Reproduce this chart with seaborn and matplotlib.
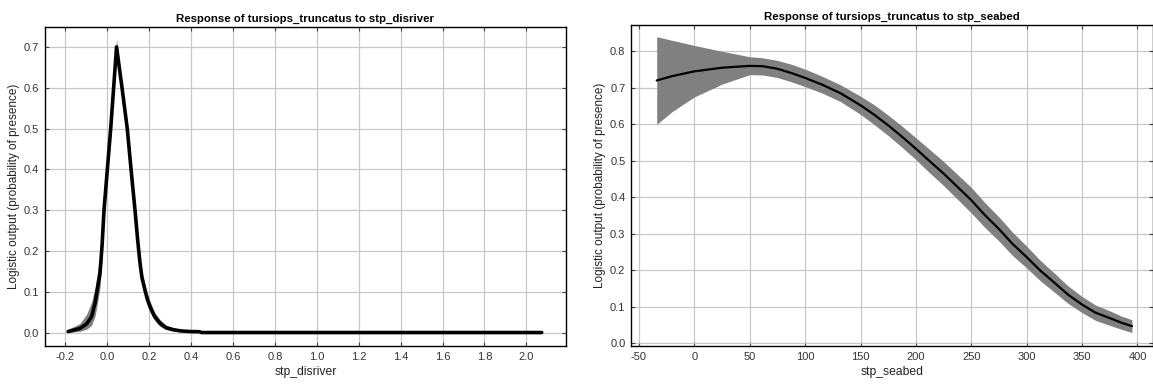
import numpy as np
import pandas as pd
import matplotlib
matplotlib.use("Agg")
import matplotlib.pyplot as plt
import seaborn as sns

# ---- Data: left panel (stp_disriver) ----
dis_x = [-0.187, -0.131, -0.099, -0.075, -0.059, -0.048, -0.035, -0.025, -0.016, 0.0, 0.016,
         0.03, 0.044, 0.07, 0.095, 0.115, 0.132, 0.145, 0.156, 0.165, 0.179, 0.19, 0.203,
         0.225, 0.251, 0.28, 0.315, 0.35, 0.394, 0.44, 0.45, 2.073]
dis_y = [0.0025, 0.010, 0.021, 0.039, 0.072, 0.105, 0.146, 0.215, 0.30, 0.40, 0.50,
         0.60, 0.70, 0.60, 0.50, 0.39, 0.30, 0.225, 0.17, 0.135, 0.105, 0.083, 0.064,
         0.04, 0.023, 0.012, 0.007, 0.004, 0.0025, 0.002, 0.0, 0.0]
dis_lo = [0.0, 0.003, 0.008, 0.018, 0.04, 0.07, 0.11, 0.18, 0.27, 0.375, 0.48,
          0.585, 0.69, 0.59, 0.49, 0.375, 0.285, 0.21, 0.155, 0.12, 0.09, 0.07, 0.05,
          0.03, 0.015, 0.007, 0.003, 0.002, 0.001, 0.001, 0.0, 0.0]
dis_hi = [0.008, 0.022, 0.045, 0.075, 0.11, 0.145, 0.19, 0.25, 0.33, 0.425, 0.52,
          0.615, 0.72, 0.61, 0.51, 0.405, 0.315, 0.24, 0.185, 0.15, 0.12, 0.097, 0.078,
          0.05, 0.032, 0.018, 0.011, 0.006, 0.004, 0.003, 0.0, 0.0]

# ---- Data: right panel (stp_seabed) ----
sea_x = [-34, -20, 0, 25, 50, 62, 75, 88, 100, 115, 132, 150, 162, 175, 187, 200, 212, 225,
         237, 250, 262, 275, 287, 300, 312, 325, 337, 350, 362, 375, 385, 395]
sea_y = [0.72, 0.732, 0.745, 0.755, 0.76, 0.759, 0.752, 0.74, 0.727, 0.709, 0.685, 0.652,
         0.627, 0.597, 0.567, 0.533, 0.50, 0.465, 0.43, 0.392, 0.352, 0.313, 0.273, 0.236,
         0.20, 0.166, 0.134, 0.106, 0.084, 0.069, 0.057, 0.047]
sea_lo = [0.60, 0.635, 0.675, 0.71, 0.736, 0.735, 0.728, 0.716, 0.703, 0.686, 0.662, 0.627,
          0.60, 0.569, 0.538, 0.503, 0.468, 0.432, 0.396, 0.357, 0.318, 0.28, 0.241, 0.206,
          0.172, 0.14, 0.11, 0.084, 0.063, 0.049, 0.039, 0.0295]
sea_hi = [0.84, 0.83, 0.816, 0.80, 0.785, 0.782, 0.775, 0.764, 0.751, 0.732, 0.708, 0.677,
          0.654, 0.625, 0.596, 0.563, 0.532, 0.498, 0.464, 0.427, 0.386, 0.346, 0.305, 0.266,
          0.228, 0.192, 0.158, 0.128, 0.105, 0.089, 0.075, 0.0645]

dis_ticks = [-0.2, 0.0, 0.2, 0.4, 0.6, 0.8, 1.0, 1.2, 1.4, 1.6, 1.8, 2.0]
dis_yticks = [0.0, 0.1, 0.2, 0.3, 0.4, 0.5, 0.6, 0.7]
sea_ticks = [-50, 0, 50, 100, 150, 200, 250, 300, 350, 400]
sea_yticks = [0.0, 0.1, 0.2, 0.3, 0.4, 0.5, 0.6, 0.7, 0.8]

sns.set_theme(style="whitegrid")
plt.rcParams['font.family'] = ['Liberation Sans', 'DejaVu Sans']

W, H = 1153, 390
fig = plt.figure(figsize=(W / 100, H / 100), dpi=100)
ax1 = fig.add_axes([44.7 / W, (H - 346) / H, (566 - 44.7) / W, (346 - 27) / H])
ax2 = fig.add_axes([631 / W, (H - 346) / H, (1153 - 631) / W, (346 - 25) / H])

df1 = pd.DataFrame({"x": dis_x, "y": dis_y})
df2 = pd.DataFrame({"x": sea_x, "y": sea_y})

ax1.fill_between(dis_x, dis_lo, dis_hi, color="#808080", lw=0, zorder=2)
sns.lineplot(data=df1, x="x", y="y", ax=ax1, color="black", lw=2.6, zorder=3)
ax2.fill_between(sea_x, sea_lo, sea_hi, color="#808080", lw=0, zorder=2)
sns.lineplot(data=df2, x="x", y="y", ax=ax2, color="black", lw=1.6, zorder=3)

def style(ax, xt, yt, xlim, ylim, xfmt, yfmt, title, xlabel):
    ax.set_xlim(*xlim)
    ax.set_ylim(*ylim)
    ax.set_xticks(xt)
    ax.set_yticks(yt)
    ax.set_xticklabels([xfmt.format(v) for v in xt], fontsize=8, color="#333333")
    ax.set_yticklabels([yfmt.format(v) for v in yt], fontsize=8, color="#333333")
    ax.set_facecolor("white")
    ax.grid(True, color="#c8c8c8", lw=0.9)
    for s in ax.spines.values():
        s.set_visible(True)
        s.set_color("black")
        s.set_linewidth(1.0)
    ax.tick_params(direction="in", length=3, width=0.8, color="#444444",
                   top=True, right=True, bottom=True, left=True, pad=4)
    ax.set_title(title, fontsize=8.2, fontweight="bold", pad=4, color="black")
    ax.set_xlabel(xlabel, fontsize=8.7, labelpad=3, color="#222222")
    ax.set_ylabel("Logistic output (probability of presence)", fontsize=8.5,
                  labelpad=3, color="#222222")

style(ax1, dis_ticks, dis_yticks, (-0.299, 2.189), (-0.033, 0.749),
      "{:.1f}", "{:.1f}", "Response of tursiops_truncatus to stp_disriver", "stp_disriver")
style(ax2, sea_ticks, sea_yticks, (-57.2, 414.0), (-0.0074, 0.872),
      "{:d}", "{:.1f}", "Response of tursiops_truncatus to stp_seabed", "stp_seabed")

fig.savefig("out.png", dpi=100, facecolor="white")
